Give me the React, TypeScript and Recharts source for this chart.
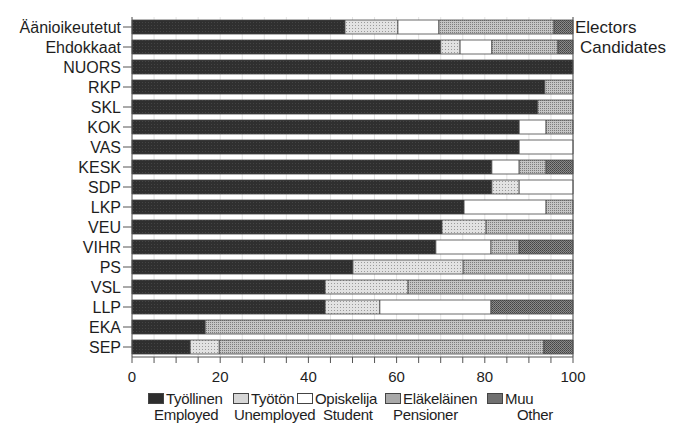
import React from "react";
import { BarChart, Bar, XAxis, YAxis, CartesianGrid } from "recharts";

const categories = [
  "Äänioikeutetut", "Ehdokkaat", "NUORS", "RKP", "SKL", "KOK", "VAS", "KESK",
  "SDP", "LKP", "VEU", "VIHR", "PS", "VSL", "LLP", "EKA", "SEP",
];
const rightLabels = ["Electors", "Candidates"];

const employed = [48.3, 70, 100, 93.6, 92, 87.8, 87.8, 81.6, 81.6, 75.3, 70.3, 68.9, 50.1, 43.8, 43.8, 16.6, 13.2];
const unemployed = [12, 4.4, 0, 0, 0, 0, 0, 0, 6.2, 0, 10, 0, 25, 18.8, 12.4, 0, 6.6];
const student = [9.3, 7.2, 0, 0, 0, 6.1, 12.2, 6.2, 12.2, 18.6, 0, 12.5, 0, 0, 25.2, 0, 0];
const pensioner = [26.1, 15, 0, 6.4, 8, 6.1, 0, 6.1, 0, 6.1, 19.7, 6.4, 24.9, 37.4, 0, 83.4, 73.6];
const other = [4.3, 3.4, 0, 0, 0, 0, 0, 6.1, 0, 0, 0, 12.2, 0, 0, 18.6, 0, 6.6];

const xTicks = [0, 5, 10, 15, 20, 25, 30, 35, 40, 45, 50, 55, 60, 65, 70, 75, 80, 85, 90, 95, 100];

const seriesNames = [
  { key: "employed", fi: "Työllinen", en: "Employed", fill: "url(#pEmp)" },
  { key: "unemployed", fi: "Työtön", en: "Unemployed", fill: "url(#pUnemp)" },
  { key: "student", fi: "Opiskelija", en: "Student", fill: "#ffffff" },
  { key: "pensioner", fi: "Eläkeläinen", en: "Pensioner", fill: "url(#pPens)" },
  { key: "other", fi: "Muu", en: "Other", fill: "url(#pOther)" },
];

const data = categories.map((name, i) => ({
  name,
  employed: employed[i],
  unemployed: unemployed[i],
  student: student[i],
  pensioner: pensioner[i],
  other: other[i],
}));

const FONT = "'Liberation Sans', Arial, sans-serif";
const INK = "#1e1e1e";

const legendSwatch: Record<string, React.CSSProperties> = {
  employed: { background: "#2e2e2e" },
  unemployed: { background: "#d6d6d6" },
  student: { background: "#fff" },
  pensioner: { background: "#a9a9a9" },
  other: { background: "#707070" },
};

// legend item positions
const legendPos = [
  { sw: 148, en: 154 },
  { sw: 233, en: 234 },
  { sw: 297, en: 323 },
  { sw: 385, en: 393 },
  { sw: 487, en: 517 },
];

function RightTick(props: any) {
  const { y, payload } = props;
  const label = rightLabels[payload.index];
  if (!label) return null;
  return (
    <text x={payload.index === 0 ? 575 : 580} y={y} dy={6} fontSize={17} fill={INK} fontFamily={FONT}>
      {label}
    </text>
  );
}

const legendText: React.CSSProperties = {
  position: "absolute",
  fontSize: 15,
  letterSpacing: -0.3,
  color: INK,
  lineHeight: "15px",
  whiteSpace: "nowrap",
};

export default function App() {
  return (
    <div
      style={{
        position: "absolute",
        left: 0,
        top: 0,
        width: 676,
        height: 423,
        background: "#fff",
        fontFamily: FONT,
      }}
    >
      <BarChart
        width={676}
        height={423}
        data={data}
        layout="vertical"
        margin={{ top: 17, right: 0, bottom: 0, left: 0 }}
        barSize={14}
      >
        <defs>
          <pattern id="pEmp" width="3" height="3" patternUnits="userSpaceOnUse">
            <rect width="3" height="3" fill="#2f2f2f" />
            <rect x="1" y="1" width="1" height="1" fill="#444" />
          </pattern>
          <pattern id="pUnemp" width="3" height="3" patternUnits="userSpaceOnUse">
            <rect width="3" height="3" fill="#e2e2e2" />
            <rect x="1" y="1" width="1" height="1" fill="#9a9a9a" />
          </pattern>
          <pattern id="pPens" width="2" height="2" patternUnits="userSpaceOnUse">
            <rect width="2" height="2" fill="#c4c4c4" />
            <rect x="0" y="0" width="1" height="1" fill="#7c7c7c" />
          </pattern>
          <pattern id="pOther" width="2" height="2" patternUnits="userSpaceOnUse">
            <rect width="2" height="2" fill="#8a8a8a" />
            <rect x="0" y="0" width="1" height="1" fill="#444" />
            <rect x="1" y="1" width="1" height="1" fill="#555" />
          </pattern>
        </defs>
        <CartesianGrid horizontal={false} stroke="#e4e4e4" />
        <XAxis
          type="number"
          domain={[0, 100]}
          ticks={xTicks}
          height={66}
          tickSize={6}
          interval={0}
          tickFormatter={(v: number) => (v % 20 === 0 ? String(v) : "")}
          tick={{ fill: INK, fontSize: 15, fontFamily: FONT, dy: 6 }}
          stroke="#555"
        />
        <XAxis xAxisId="top" type="number" domain={[0, 100]} orientation="top" tick={false} tickLine={false} height={0} stroke="#555" />
        <YAxis
          type="category"
          dataKey="name"
          width={132}
          tickSize={9}
          interval={0}
          tick={{ fill: INK, fontSize: 16, fontFamily: FONT }}
          stroke="#555"
        />
        <YAxis
          yAxisId="right"
          type="category"
          dataKey="name"
          orientation="right"
          width={103}
          interval={0}
          tickLine={false}
          tick={<RightTick />}
          stroke="#555"
        />
        {seriesNames.map((s) => (
          <Bar
            key={s.key}
            dataKey={s.key}
            stackId="a"
            fill={s.fill}
            stroke="#444"
            strokeWidth={0.8}
            isAnimationActive={false}
          />
        ))}
      </BarChart>
      {seriesNames.map((s, i) => (
        <React.Fragment key={s.key}>
          <div style={{ ...legendText, left: legendPos[i].sw, top: 391, display: "flex", alignItems: "center" }}>
            <span
              style={{
                display: "inline-block",
                width: 14,
                height: 9,
                border: "1px solid #444",
                marginRight: 2,
                ...legendSwatch[s.key],
              }}
            />
            {s.fi}
          </div>
          <div style={{ ...legendText, left: legendPos[i].en, top: 407 }}>{s.en}</div>
        </React.Fragment>
      ))}
    </div>
  );
}
